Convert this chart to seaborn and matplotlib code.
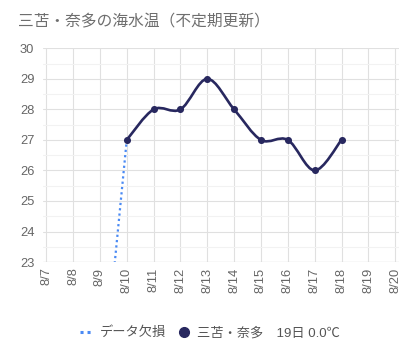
import matplotlib
matplotlib.use("Agg")

import matplotlib.pyplot as plt
import numpy as np
import pandas as pd
import seaborn as sns
from matplotlib.lines import Line2D
from matplotlib.path import Path
from matplotlib.patches import PathPatch

day_labels = ["8/7", "8/8", "8/9", "8/10", "8/11", "8/12", "8/13",
              "8/14", "8/15", "8/16", "8/17", "8/18", "8/19", "8/20"]

temp_days = ["8/10", "8/11", "8/12", "8/13", "8/14", "8/15", "8/16", "8/17", "8/18"]
temp_values = [27, 28, 28, 29, 28, 27, 27, 26, 27]

gap_days = ["8/7", "8/10"]
gap_values = [0, 27]

title = "三苫・奈多の海水温（不定期更新）"
series_name = "三苫・奈多"
latest_note = "19日 0.0℃"

LINE_COLOR = "#28285f"
GAP_COLOR = "#4a8af4"


def smooth_path(xs, ys, k=1 / 6):
    # cubic bezier through the points, tangents from the neighbours
    n = len(xs)
    pts = np.column_stack([xs, ys]).astype(float)
    verts = [tuple(pts[0])]
    codes = [Path.MOVETO]
    for i in range(n - 1):
        prev = pts[i - 1] if i > 0 else pts[i]
        nxt = pts[i + 2] if i + 2 < n else pts[i + 1]
        c1 = pts[i] + (pts[i + 1] - prev) * k
        c2 = pts[i + 1] - (nxt - pts[i]) * k
        verts += [tuple(c1), tuple(c2), tuple(pts[i + 1])]
        codes += [Path.CURVE4] * 3
    return Path(verts, codes)


sns.set_style("white")
plt.rcParams["font.family"] = ["Liberation Sans", "Noto Sans CJK JP", "DejaVu Sans"]

pos = {d: i for i, d in enumerate(day_labels)}
temp_df = pd.DataFrame({"x": [pos[d] for d in temp_days], "temp": temp_values})
gap_df = pd.DataFrame({"x": [pos[d] for d in gap_days], "temp": gap_values})

fig = plt.figure(figsize=(4.2, 3.58), dpi=100)
ax = fig.add_axes([0.1017, 0.268, 0.8476, 0.597])

sns.lineplot(data=gap_df, x="x", y="temp", ax=ax, color=GAP_COLOR,
             linewidth=1.6, linestyle=(0, (1, 1.4)), zorder=3)

ax.add_patch(PathPatch(smooth_path(temp_df["x"].tolist(), temp_df["temp"].tolist()),
                       facecolor="none", edgecolor=LINE_COLOR, linewidth=1.9,
                       capstyle="round", joinstyle="round", zorder=4))
sns.scatterplot(data=temp_df, x="x", y="temp", ax=ax, color=LINE_COLOR,
                s=26, edgecolor=LINE_COLOR, linewidth=0, zorder=5)

ax.set_xlim(-0.13, len(day_labels) - 1 + 0.13)
ax.set_ylim(23, 30)
ax.set_xticks(range(len(day_labels)))
ax.set_xticklabels(day_labels, rotation=90, ha="center", va="top")
ax.set_yticks(range(23, 31))
ax.set_yticks(np.arange(23.5, 30, 1), minor=True)

ax.grid(axis="x", color="#e0e0e0", linewidth=0.8)
ax.grid(axis="y", which="major", color="#e0e0e0", linewidth=0.8)
ax.grid(axis="y", which="minor", color="#f2f2f2", linewidth=0.8)
ax.set_axisbelow(True)
for side in ["top", "right", "left", "bottom"]:
    ax.spines[side].set_visible(False)
ax.axhline(23, color="#d6d6d6", linewidth=0.9, zorder=2)

ax.tick_params(axis="both", which="both", length=0, colors="#666666", labelsize=9.3)
ax.tick_params(axis="x", pad=4)
ax.tick_params(axis="y", pad=6)
ax.set_xlabel("")
ax.set_ylabel("")

fig.text(0.043, 0.938, title, fontsize=11.3, color="#6e6e6e", ha="left", va="center")

handles = [
    Line2D([], [], color=GAP_COLOR, linestyle=(0, (1, 1.3)), linewidth=2.2),
    Line2D([], [], color=LINE_COLOR, marker="o", linestyle="none", markersize=7),
]
labels = ["データ欠損", f"{series_name}　{latest_note}"]
fig.legend(handles, labels, loc="center", bbox_to_anchor=(0.5, 0.07), ncol=2,
           frameon=False, fontsize=9.5, labelcolor="#555555", handlelength=1.0,
           handletextpad=0.5, columnspacing=0.9)

fig.savefig("out.png", dpi=100)
plt.close(fig)
